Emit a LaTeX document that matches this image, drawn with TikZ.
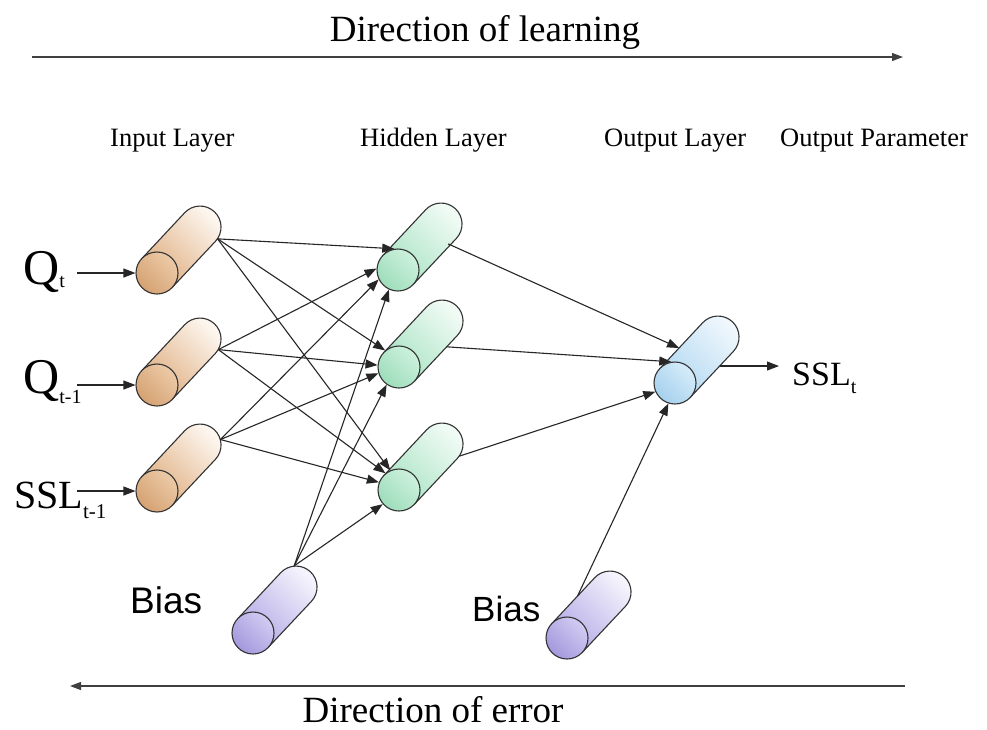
\documentclass[tikz,border=0pt]{standalone}
\usepackage{fontspec}
\setmainfont{Liberation Serif}
\newfontfamily\biasfont{Liberation Sans}
\usetikzlibrary{calc,arrows.meta}

\definecolor{edge}{HTML}{333333}
\definecolor{inBack}{HTML}{FDF6EF}
\definecolor{inFront}{HTML}{DFAE80}
\definecolor{inFaceHi}{HTML}{ECCAA8}
\definecolor{inFaceLo}{HTML}{D5A272}
\definecolor{hdBack}{HTML}{F1FBF5}
\definecolor{hdFront}{HTML}{A9E3C4}
\definecolor{hdFaceHi}{HTML}{CDF1DD}
\definecolor{hdFaceLo}{HTML}{9EDDBB}
\definecolor{otBack}{HTML}{F0F7FD}
\definecolor{otFront}{HTML}{B0D8F1}
\definecolor{otFaceHi}{HTML}{D6ECF9}
\definecolor{otFaceLo}{HTML}{A6D1EE}
\definecolor{bsBack}{HTML}{F5F3FC}
\definecolor{bsFront}{HTML}{B2A9E6}
\definecolor{bsFaceHi}{HTML}{D2CCF2}
\definecolor{bsFaceLo}{HTML}{A398DD}

% tilted cylinder: #1 name, #2 x, #3 y (downwards), #4 body style, #5 face style
\newcommand\NNcyl[5]{%
  \coordinate (#1-c) at (#2,-#3);
  \coordinate (#1-b) at ($(#1-c)+(43,46)$);
  \coordinate (#1-u1) at ($(#1-c)+(-15.3,14.3)$);
  \coordinate (#1-u2) at ($(#1-b)+(-15.3,14.3)$);
  \coordinate (#1-d1) at ($(#1-c)+(15.3,-14.3)$);
  \coordinate (#1-d2) at ($(#1-b)+(15.3,-14.3)$);
  \path[cylline,#4] (#1-u1) -- (#1-u2)
     arc[start angle=136.9,end angle=-43.1,radius=21] -- (#1-d1) -- cycle;
  \node[capzone] (#1-back) at (#1-b) {};
  \node[cylface,#5] (#1) at (#1-c) {};
}

\begin{document}
\begin{tikzpicture}[x=1pt,y=1pt,
  cylline/.style={draw=edge,line width=1.1pt},
  cylface/.style={circle,draw=edge,line width=1.1pt,minimum size=42pt,inner sep=0pt},
  capzone/.style={circle,minimum size=42pt,inner sep=0pt},
  inbody/.style={top color=inBack,bottom color=inFront,shading angle=-45},
  inface/.style={top color=inFaceHi,bottom color=inFaceLo,shading angle=-45},
  hdbody/.style={top color=hdBack,bottom color=hdFront,shading angle=-45},
  hdface/.style={top color=hdFaceHi,bottom color=hdFaceLo,shading angle=-45},
  otbody/.style={top color=otBack,bottom color=otFront,shading angle=-45},
  otface/.style={top color=otFaceHi,bottom color=otFaceLo,shading angle=-45},
  bsbody/.style={top color=bsBack,bottom color=bsFront,shading angle=-45},
  bsface/.style={top color=bsFaceHi,bottom color=bsFaceLo,shading angle=-45},
  link/.style={draw=black!85,line width=1.1pt,-{Triangle[length=12pt,width=9pt]}},
  dirarrow/.style={draw=black!75,line width=1.2pt,-{Triangle[length=11pt,width=8pt]}},
  layer/.style={anchor=base west,inner sep=0pt,font=\fontsize{26.5}{30}\selectfont},
  dirtext/.style={anchor=base,inner sep=0pt,font=\fontsize{37}{40}\selectfont},
  biastext/.style={anchor=base west,inner sep=0pt},
  vartext/.style={anchor=base west,inner sep=0pt}
]
\fill[white] (0,0) rectangle (987,-729);
\useasboundingbox (0,0) rectangle (987,-729);

% direction of learning
\node[dirtext] (learn) at (485,-41) {Direction of learning};
\coordinate (learnA) at (32,-57);
\coordinate (learnB) at (903,-57);
\draw[dirarrow] (learnA) -- (learnB);

% layer titles
\node[layer] (tin)  at (110,-146) {Input Layer};
\node[layer] (thd)  at (360,-146) {Hidden Layer};
\node[layer] (tot)  at (604,-146) {Output Layer};
\node[layer] (tpar) at (780,-146) {Output Parameter};

% neurons
\NNcyl{i1}{157}{273}{inbody}{inface}
\NNcyl{i2}{157}{385}{inbody}{inface}
\NNcyl{i3}{157}{491}{inbody}{inface}
\NNcyl{h1}{398}{270}{hdbody}{hdface}
\NNcyl{h2}{399}{367}{hdbody}{hdface}
\NNcyl{h3}{399}{490}{hdbody}{hdface}
\NNcyl{ol}{675}{383}{otbody}{otface}
\NNcyl{b1}{253}{633}{bsbody}{bsface}
\NNcyl{b2}{567}{638}{bsbody}{bsface}

% input variables
\node[vartext] (qt) at (23,-284)
  {\fontsize{50}{50}\selectfont Q\raisebox{-3pt}{\fontsize{20}{20}\selectfont t}};
\node[vartext] (qt1) at (23,-393)
  {\fontsize{50}{50}\selectfont Q\raisebox{-10pt}{\fontsize{20}{20}\selectfont t-1}};
\node[vartext] (sslt1) at (14,-508)
  {\fontsize{40}{40}\selectfont SSL\raisebox{-10pt}{\fontsize{21}{21}\selectfont t-1}};
\coordinate (qtA) at (77,-273);
\coordinate (qt1A) at (77,-385);
\coordinate (sslt1A) at (77,-491);
\draw[link] (qtA) -- (i1.west);
\draw[link] (qt1A) -- (i2.west);
\draw[link] (sslt1A) -- (i3.west);

% input -> hidden
\draw[link] (i1-back.-34) -- (h1.100);
\draw[link] (i1-back.-34) -- (h2.130);
\draw[link] (i1-back.-34) -- (h3.114);
\draw[link] (i2-back.-30) -- (h1.176);
\draw[link] (i2-back.-30) -- (h2.175);
\draw[link] (i2-back.-30) -- (h3.129);
\draw[link] (i3-back.15) -- (h1.206);
\draw[link] (i3-back.15) -- (h2.197);
\draw[link] (i3-back.15) -- (h3.159);

% bias -> hidden
\draw[link] (b1-back.95) -- (h1.245);
\draw[link] (b1-back.95) -- (h2.235);
\draw[link] (b1-back.95) -- (h3.221);

% hidden -> output
\draw[link] (h1-back.-70) -- ($(ol-u1)!0.45!(ol-u2)$);
\draw[link] ($(h2-d1)!0.75!(h2-d2)$) -- (ol.100);
\draw[link] (h3-back.-35) -- (ol.204);
\draw[link] ($(b2-u1)!0.6!(b2-u2)$) -- (ol.252);

% output parameter
\node[vartext] (sslt) at (792,-385)
  {\fontsize{34}{34}\selectfont SSL\raisebox{-8pt}{\fontsize{20}{20}\selectfont t}};
\coordinate (olA) at ($(ol-d1)!0.68!(ol-d2)$);
\draw[link,shorten >=13pt] (olA) -- (olA -| sslt.west);

% bias labels
\node[biastext] (bias1) at (130,-613) {\biasfont\fontsize{37}{37}\selectfont Bias};
\node[biastext] (bias2) at (472,-621) {\biasfont\fontsize{35}{35}\selectfont Bias};

% direction of error
\coordinate (errA) at (905,-686);
\coordinate (errB) at (70,-686);
\draw[dirarrow] (errA) -- (errB);
\node[dirtext] (err) at (433,-722) {Direction of error};
\end{tikzpicture}
\end{document}
